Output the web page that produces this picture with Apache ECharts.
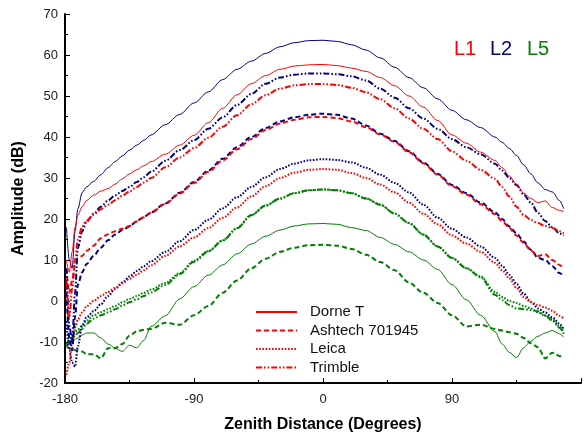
<!DOCTYPE html>
<html><head><meta charset="utf-8">
<script src="https://cdn.jsdelivr.net/npm/echarts@6/dist/echarts.min.js"></script>
<style>html,body{margin:0;padding:0;background:#fff}#c{width:584px;height:438px}</style>
</head><body><div id="c"></div>
<script>
// Zenith distance sample points (degrees)
const zenith = [-179,-177,-175,-173,-171,-168,-165,-160,-155,-150,-145,-140,-135,-130,-125,-120,-110,-100,-90,-80,-70,-60,-50,-40,-30,-20,-10,0,10,20,30,40,50,60,70,80,90,100,110,120,125,130,135,140,145,150,155,160,165,168];

// Amplitude (dB) per antenna and band
const dorneL2 = [18,10,8,17,22.5,26.5,27.8,29.2,30.8,32.5,34,35.4,36.8,38,39.2,40.5,43,45.5,48.3,51,54,56.5,58.5,60.4,62,63,63.5,63.6,63.3,62.5,61.2,59.3,57,54.5,52,49.3,46.5,44.2,42.3,40,38.7,37.2,35.5,33.2,31,28.8,27.2,26.6,24.5,22.5];
const dorneL1 = [10,7,12,18,21,23,24.5,25.8,26.8,27.4,28.5,29.8,31,32,33,34,35.8,38,40.4,43.5,47,50.3,53,55,56.5,57.3,57.6,57.7,57.4,56.8,56,54.5,52.5,50,47.3,44,40.5,38.5,36.3,34.3,32.5,30.5,28.5,26.3,25,24,24.4,22.8,22.1,21.8];
const dorneL5 = [-10.5,-10,-9.5,-9.3,-9,-8.3,-7.8,-7.8,-9,-10.5,-11.5,-12.3,-10.8,-11.4,-9.6,-6.2,-3.6,0.5,3.5,6.3,8.8,11.5,13.9,15.8,17.3,18.3,18.8,18.9,18.7,17.9,17.2,15.5,13.8,12,10,7.7,4,0.3,-3.5,-7.5,-10.5,-12.5,-13.8,-11.4,-9.8,-8.6,-7.8,-7.2,-8,-8.8];

const trimbleL2 = [8,-6,-10,2,13,17,19.3,21.3,23,24.5,25.8,26.8,27.8,29,30.2,31.5,34.2,36.8,39.2,42,44.8,47.8,50.5,53,54.5,55.2,55.5,55.5,55.3,54.8,53.8,51.8,49.6,47,44.5,42,39.5,37.5,35.8,33.5,31.8,30,28.3,26,24,21.5,19.5,18,16.5,16];
const trimbleL1 = [5,-4,3,10,15,18.2,19.6,21,22.4,23.5,24.6,25.7,26.7,27.8,28.9,30,32.6,35,37.3,39.8,42.5,45.3,48,50.2,51.8,52.6,52.9,52.9,52.7,52,50.9,49.2,47,44.5,42,39.5,36.5,34.2,32,29.8,27.8,25.5,23,21,19.8,19,18.3,17.8,17,16.5];
const trimbleL5 = [-11,-10.3,-9.4,-8.5,-7.8,-6.8,-5.6,-4.3,-3.5,-2.8,-2,-1.1,-0.3,0.4,1.2,2.1,3.9,6.5,9.6,12.1,14.7,17.7,20.9,23.3,25,26.3,27,27.2,27,26.3,25,23.5,21.3,19,16.2,13.3,10.5,8,5.8,1.5,0.2,-1,-1.8,-2,-2.2,-2.5,-3.5,-4.8,-6.5,-8];

const ashtechL2 = [2,-9,-12,-4,4,7,9,11,13,14.8,16.2,17.3,18.2,19.5,20.5,21.6,23.8,26.4,29,31.8,34.7,37.5,40,42.2,43.8,44.8,45.4,45.7,45.4,44.5,42.8,40.8,39,36.5,33.8,31,28.3,26.3,24,21.6,20,18.2,16.5,14.5,12.5,10.5,10,8.5,6.8,6];
const ashtechL1 = [8,2,5,9,10.5,11,12.2,13.5,15.3,16.3,17,17.6,18.3,19.4,20.4,21.5,23.7,26.2,28.8,31.5,34.3,37,39.5,41.7,43.3,44.2,44.8,44.9,44.6,43.8,42.4,40.6,38.8,36.3,33.6,30.8,28,26,23.6,21.2,19.5,17.8,16,14.2,12.3,11,11.4,10,8.8,8];
const ashtechL5 = [-11,-11.5,-11.8,-12,-12,-12.3,-13,-13,-14,-11.5,-11.5,-10.5,-8.5,-7.4,-7,-6.8,-5.3,-5.8,-3.5,-1.2,2,5,8,10.3,12,13,13.6,13.7,13.5,12.7,11.3,9.5,7.5,4.5,2,-0.5,-3.5,-6.2,-5.8,-6.8,-7.2,-7.6,-8,-9,-10.3,-11.3,-14,-12.6,-13.4,-13.6];

const leicaL2 = [-5,-12,-15,-16,-11,-6,-4,-2.5,-0.8,1.2,2.9,4.5,6,7.3,8.5,9.7,12,14.6,17.3,19.8,22.6,25.3,27.8,30.2,32.2,33.5,34.3,34.6,34.4,33.8,32.5,30.8,28.8,26.5,23.5,20.3,17.6,15.5,13.3,10.5,8.6,6.4,4.2,1.8,-0.2,-1.8,-2.8,-4,-5.5,-7];
const leicaL1 = [-18,-15,-10,-6.5,-4.5,-2.8,-1.3,0,1.2,2.2,3.2,4.3,5.4,6.4,7.5,8.7,11,13.3,15.5,17.8,20.3,22.8,25.5,28,30,31.3,32,32.2,32,31.2,30,28.4,26.5,24,21.3,18.7,16,14,12,9.3,7.5,5.5,3.2,1,-0.3,-1,-1.6,-2.4,-3.6,-4.3];
const leicaL5 = [-10.5,-9.5,-8.5,-7.5,-7,-6,-4.8,-3.5,-2.7,-2,-1.2,-0.3,0.5,1.2,2,2.8,4.4,6.8,9.8,12.2,14.8,17.8,21,23.3,25,26.3,27,27.2,27,26.3,25,23.5,21.3,19,16.2,13.3,10.5,8,6,2.2,1,0,-0.5,-1.2,-1.8,-2.8,-3.6,-4.5,-6.2,-7.5];

const antennas = ['Dorne T', 'Ashtech 701945', 'Leica', 'Trimble'];
const bandLabels = ['L1', 'L2', 'L5'];
const xTicks = [-180, -90, 0, 90];
const yRange = [-20, 70];

const bandColor = { L1: '#ff0000', L2: '#000080', L5: '#008000' };
const antStyle = {
  'Dorne T': { width: 1, dash: 'solid' },
  'Ashtech 701945': { width: 2, dash: [5, 3] },
  'Leica': { width: 2, dash: [1.6, 1.6] },
  'Trimble': { width: 2, dash: [6, 2, 1.6, 2, 1.6, 2] }
};

const table = [
  ['Dorne T', 'L5', dorneL5], ['Ashtech 701945', 'L5', ashtechL5], ['Leica', 'L5', leicaL5], ['Trimble', 'L5', trimbleL5],
  ['Leica', 'L2', leicaL2], ['Leica', 'L1', leicaL1],
  ['Ashtech 701945', 'L2', ashtechL2], ['Ashtech 701945', 'L1', ashtechL1],
  ['Trimble', 'L2', trimbleL2], ['Trimble', 'L1', trimbleL1],
  ['Dorne T', 'L2', dorneL2], ['Dorne T', 'L1', dorneL1]
];

const series = table.map(([ant, band, vals]) => ({
  name: band === 'L1' ? ant : ant + ' ' + band,
  type: 'line',
  symbol: 'none',
  smooth: 0.3,
  smoothMonotone: 'x',
  animation: false,
  data: zenith.map((z, i) => [z, vals[i]]),
  lineStyle: { color: bandColor[band], width: antStyle[ant].width, type: antStyle[ant].dash },
  itemStyle: { color: bandColor[band] }
}));

const chart = echarts.init(document.getElementById('c'));
chart.setOption({
  animation: false,
  backgroundColor: '#fff',
  grid: { left: 65, right: -19.7, top: 14, bottom: 50.5, containLabel: false },
  xAxis: {
    type: 'value', min: -180, max: 180, interval: 90,
    name: 'Zenith Distance (Degrees)', nameLocation: 'middle', nameGap: 34,
    nameTextStyle: { fontFamily: 'Liberation Sans, Arial', fontWeight: 'bold', fontSize: 16, color: '#000' },
    axisLine: { onZero: false, lineStyle: { color: '#000', width: 2 } },
    axisTick: { inside: true, length: 5, lineStyle: { color: '#000', width: 1 } },
    minorTick: { show: true, splitNumber: 2, length: 3, lineStyle: { color: '#000' } },
    splitLine: { show: false },
    axisLabel: { margin: 10, fontFamily: 'Liberation Sans, Arial', fontSize: 13, color: '#1a1a1a',
      formatter: v => xTicks.includes(v) ? String(v) : '' }
  },
  yAxis: {
    type: 'value', min: yRange[0], max: yRange[1], interval: 10,
    name: 'Amplitude (dB)', nameLocation: 'middle', nameGap: 38,
    nameTextStyle: { fontFamily: 'Liberation Sans, Arial', fontWeight: 'bold', fontSize: 16, color: '#000' },
    axisLine: { show: true, onZero: false, lineStyle: { color: '#000', width: 2 } },
    axisTick: { show: true, inside: true, length: 5, lineStyle: { color: '#000', width: 1 } },
    minorTick: { show: true, splitNumber: 2, length: 3, lineStyle: { color: '#000' } },
    splitLine: { show: false },
    axisLabel: { margin: 7, fontFamily: 'Liberation Sans, Arial', fontSize: 13, color: '#1a1a1a' }
  },
  legend: {
    data: antennas,
    orient: 'vertical', left: 250, top: 298,
    itemWidth: 41, itemHeight: 14, itemGap: 0.5,
    itemStyle: { opacity: 0, borderWidth: 0 },
    textStyle: { fontFamily: 'Liberation Sans, Arial', fontSize: 15, color: '#111', lineHeight: 18, padding: [0, 0, 0, 8] },
    selectedMode: false
  },
  graphic: [
    { type: 'text', left: 454, top: 39, style: { text: bandLabels[0], fill: bandColor.L1, font: '20px "Liberation Sans", Arial' } },
    { type: 'text', left: 490, top: 39, style: { text: bandLabels[1], fill: bandColor.L2, font: '20px "Liberation Sans", Arial' } },
    { type: 'text', left: 527, top: 39, style: { text: bandLabels[2], fill: bandColor.L5, font: '20px "Liberation Sans", Arial' } }
  ],
  series: series
});
</script>
</body></html>
